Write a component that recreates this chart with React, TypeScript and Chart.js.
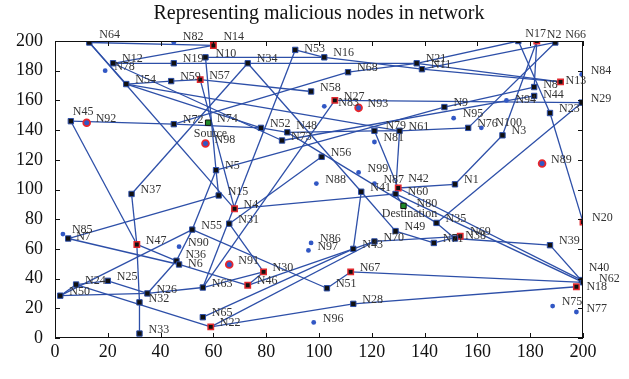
import { useEffect, useRef } from "react";
import { Chart, registerables } from "chart.js";

Chart.register(...registerables);

const chartTitle = "Representing malicious nodes in network";
const xTicks = [0, 20, 40, 60, 80, 100, 120, 140, 160, 180, 200];
const yTicks = [0, 20, 40, 60, 80, 100, 120, 140, 160, 180, 200];

// kind: p = routed node, m = malicious routed node, d = idle node, t = malicious idle node, g = source/destination
const nodes: [string, number, number, string][] = [
  ["N64", 13, 199, "p"], ["N82", 45, 199, "d"], ["N14", 60, 197, "m"], ["N10", 57, 189, "p"],
  ["N12", 22, 185, "p"], ["N78", 19, 180, "d"], ["N19", 45, 185, "p"], ["N54", 27, 171, "p"],
  ["N59", 44, 173, "p"], ["N57", 55, 174, "m"], ["N34", 73, 185, "p"], ["N45", 6, 146, "p"],
  ["N92", 12, 145, "t"], ["N72", 45, 144, "p"], ["N74", 58, 145, "g"], ["N98", 57, 131, "t"],
  ["N5", 61, 113, "p"], ["N37", 29, 97, "p"], ["N15", 62, 96, "p"], ["N4", 68, 87, "m"],
  ["N31", 66, 77, "p"], ["N85", 3, 70, "d"], ["N7", 5, 67, "p"], ["N55", 52, 73, "p"],
  ["N47", 31, 63, "m"], ["N90", 47, 61.5, "d"], ["N36", 46, 52, "p"], ["N6", 47, 49.5, "p"],
  ["N91", 66, 49.5, "t"], ["N24", 8, 36, "p"], ["N25", 20, 38.5, "p"], ["N50", 2, 28.5, "p"],
  ["N26", 35, 30, "p"], ["N32", 32, 24, "p"], ["N63", 56, 34, "p"], ["N65", 56, 14, "p"],
  ["N22", 59, 7.5, "m"], ["N33", 32, 3, "p"], ["N86", 97, 64, "d"], ["N97", 96, 59, "d"],
  ["N43", 113, 60, "p"], ["N70", 121, 65, "p"], ["N30", 79, 44.5, "m"], ["N46", 73, 35.5, "m"],
  ["N51", 103, 33.5, "p"], ["N67", 112, 44.5, "m"], ["N28", 113, 23, "p"], ["N96", 98, 10.5, "d"],
  ["N73", 86, 133, "p"], ["N56", 101, 122, "p"], ["N99", 115, 111.5, "d"], ["N88", 99, 104, "d"],
  ["N41", 116, 98.5, "p"], ["N87", 121, 104, "d"], ["N42", 130, 101, "m"], ["N60", 129, 97, "p"],
  ["N80", 132, 89, "g"], ["N81", 121, 132, "d"], ["N79", 121, 139.5, "p"], ["N61", 130.5, 139.5, "p"],
  ["N53", 91, 194, "p"], ["N16", 102, 189, "p"], ["N68", 111, 179, "p"], ["N58", 97, 166, "p"],
  ["N27", 106, 160, "m"], ["N83", 102, 156, "d"], ["N93", 115, 155, "t"], ["N52", 78, 141.5, "p"],
  ["N48", 88, 138.5, "p"], ["N21", 137, 185, "p"], ["N11", 139, 181, "p"], ["N17", 175.5, 200, "p"],
  ["N2", 182.5, 200, "m"], ["N66", 189.5, 199, "p"], ["N84", 199.5, 177.5, "d"], ["N13", 191.5, 172.5, "m"],
  ["N8", 181.5, 169, "p"], ["N44", 181.5, 163, "p"], ["N29", 199.5, 158.5, "p"], ["N9", 147.5, 155.5, "p"],
  ["N94", 171, 160, "d"], ["N23", 187.5, 151.5, "p"], ["N95", 151, 148, "d"], ["N76", 156.5, 141.5, "p"],
  ["N100", 161.5, 141.5, "d"], ["N3", 169.5, 136.5, "p"], ["N89", 184.5, 117.5, "t"], ["N1", 151.5, 103.5, "p"],
  ["N20", 200, 78, "m"], ["N35", 144.5, 77.5, "p"], ["N69", 151.5, 67, "p"], ["N38", 153.5, 68.5, "m"],
  ["N71", 143.5, 64, "p"], ["N49", 129, 72, "p"], ["N39", 187.5, 62.5, "p"], ["N40", 199.5, 39, "p"],
  ["N62", 200, 37.5, "p"], ["N18", 197.5, 34.5, "m"], ["N75", 188.5, 21.5, "d"], ["N77", 197.5, 17.5, "d"],
];

const edges: [string, string][] = [
  ["N64", "N14"], ["N14", "N12"], ["N12", "N19"], ["N19", "N34"], ["N10", "N16"], ["N53", "N16"],
  ["N16", "N11"], ["N34", "N21"], ["N21", "N13"], ["N11", "N13"], ["N17", "N21"], ["N66", "N11"],
  ["N2", "N8"], ["N17", "N23"], ["N23", "N20"], ["N2", "N3"], ["N3", "N1"], ["N66", "N76"],
  ["N76", "N61"], ["N61", "N79"], ["N79", "N42"], ["N61", "N60"], ["N29", "N35"], ["N27", "N29"],
  ["N9", "N8"], ["N5", "N9"], ["N73", "N44"], ["N10", "N5"], ["N57", "N4"], ["N4", "N60"],
  ["N56", "N31"], ["N37", "N34"], ["N37", "N47"], ["N45", "N47"], ["N45", "N72"], ["N72", "N52"],
  ["N52", "N48"], ["N48", "N79"], ["N72", "N68"], ["N68", "N21"], ["N54", "N59"], ["N59", "N57"],
  ["N57", "N58"], ["N54", "N52"], ["N54", "N61"], ["N64", "N4"], ["N64", "N54"], ["N47", "N32"],
  ["N32", "N33"], ["N7", "N15"], ["N7", "N6"], ["N5", "N55"], ["N5", "N15"], ["N47", "N36"],
  ["N26", "N36"], ["N36", "N55"], ["N50", "N24"], ["N24", "N25"], ["N25", "N26"], ["N24", "N22"],
  ["N50", "N26"], ["N26", "N63"], ["N50", "N55"], ["N63", "N30"], ["N30", "N46"], ["N6", "N46"],
  ["N46", "N43"], ["N27", "N63"], ["N65", "N43"], ["N22", "N70"], ["N22", "N28"], ["N28", "N18"],
  ["N67", "N62"], ["N51", "N67"], ["N55", "N51"], ["N43", "N70"], ["N41", "N43"], ["N34", "N41"],
  ["N41", "N49"], ["N49", "N71"], ["N71", "N38"], ["N69", "N39"], ["N39", "N62"], ["N70", "N38"],
  ["N35", "N69"], ["N42", "N40"], ["N60", "N62"], ["N60", "N80"], ["N1", "N42"], ["N48", "N35"],
  ["N12", "N73"], ["N53", "N63"], ["N31", "N30"], ["N20", "N62"],
];

const labelOffsets: Record<string, [number, number]> = {
  N64: [10, -8], N14: [10, -9], N82: [9, -6], N10: [10, -3], N17: [7, -7], N2: [10, -6], N66: [10, -8],
  N45: [2, -9], N42: [10, -9], N60: [12, -2], N80: [13, -2], N40: [7, -12], N62: [16, -3], N18: [10, 0],
  N77: [10, -3], N13: [5, -1], N8: [9, -2], N44: [9, -1], N94: [9, -1], N100: [14, -5], N83: [14, -3],
  N48: [9, -6], N36: [9, -6], N6: [9, -1], N38: [5, 0], N69: [15, -7], N7: [8, -2], N79: [11, -5],
  N53: [9, -1],
};
const extraLabels: [string, string, number, number][] = [
  ["N98", "Source", 5, -10],
  ["N80", "Destination", 6, 8],
];

const lineColor = "#2d4fa8";
const serif = "'Liberation Serif', 'DejaVu Serif', serif";

const kindStyle: Record<string, any> = {
  p: { pointStyle: "rect", radius: 3.8, backgroundColor: "#111", borderColor: "#2d4fa8", borderWidth: 1 },
  m: { pointStyle: "rect", radius: 3.8, backgroundColor: "#111", borderColor: "#e0282e", borderWidth: 1.5 },
  d: { pointStyle: "circle", radius: 2.4, backgroundColor: "#3157c4", borderColor: "#3157c4", borderWidth: 0 },
  t: { pointStyle: "circle", radius: 3.4, backgroundColor: "#3157c4", borderColor: "#e8262c", borderWidth: 1.8 },
  g: { pointStyle: "rect", radius: 3.8, backgroundColor: "#1f8a2a", borderColor: "#111", borderWidth: 1 },
};

export default function App() {
  const ref = useRef<HTMLCanvasElement | null>(null);
  useEffect(() => {
    const canvas = ref.current;
    if (!canvas) return;
    const pos: Record<string, { x: number; y: number }> = {};
    nodes.forEach(([n, x, y]) => (pos[n] = { x, y }));

    const edgeSets = edges.map(([a, b]) => ({
      type: "scatter" as const,
      data: [pos[a], pos[b]],
      showLine: true,
      borderColor: lineColor,
      borderWidth: 1.3,
      pointRadius: 0,
      order: 2,
    }));
    const nodeSets = Object.keys(kindStyle).map((k) => {
      const s = kindStyle[k];
      return {
        type: "scatter" as const,
        data: nodes.filter((n) => n[3] === k).map(([, x, y]) => ({ x, y })),
        pointStyle: s.pointStyle,
        pointRadius: s.radius,
        pointBackgroundColor: s.backgroundColor,
        pointBorderColor: s.borderColor,
        pointBorderWidth: s.borderWidth,
        showLine: false,
        order: 1,
      };
    });

    const framePlugin = {
      id: "frame",
      afterDatasetsDraw(chart: any) {
        const { ctx, chartArea: a, scales } = chart;
        ctx.save();
        ctx.strokeStyle = "#111";
        ctx.lineWidth = 1;
        ctx.strokeRect(a.left + 0.5, a.top + 0.5, a.right - a.left - 1, a.bottom - a.top - 1);
        const t = 5;
        ctx.beginPath();
        xTicks.forEach((v) => {
          const px = Math.round(scales.x.getPixelForValue(v)) + 0.5;
          ctx.moveTo(px, a.bottom);
          ctx.lineTo(px, a.bottom - t);
          ctx.moveTo(px, a.top);
          ctx.lineTo(px, a.top + t);
        });
        yTicks.forEach((v) => {
          const py = Math.round(scales.y.getPixelForValue(v)) + 0.5;
          ctx.moveTo(a.left, py);
          ctx.lineTo(a.left + t, py);
          ctx.moveTo(a.right, py);
          ctx.lineTo(a.right - t, py);
        });
        ctx.stroke();
        // title
        ctx.fillStyle = "#111";
        ctx.font = `20px ${serif}`;
        ctx.textAlign = "center";
        ctx.textBaseline = "middle";
        ctx.fillText(chartTitle, (a.left + a.right) / 2, 14);
        // node labels
        ctx.fillStyle = "#333";
        ctx.font = `12px ${serif}`;
        ctx.textAlign = "left";
        nodes.forEach(([n, x, y]) => {
          const off = labelOffsets[n] || [9, -4];
          const px = scales.x.getPixelForValue(x);
          const py = scales.y.getPixelForValue(y);
          ctx.fillText(n, px + off[0], py + off[1]);
        });
        ctx.textAlign = "center";
        extraLabels.forEach(([n, text, dx, dy]) => {
          const p = pos[n];
          ctx.fillText(text, scales.x.getPixelForValue(p.x) + dx, scales.y.getPixelForValue(p.y) + dy);
        });
        ctx.restore();
      },
    };

    const chart = new Chart(canvas, {
      type: "scatter",
      data: { datasets: [...nodeSets, ...edgeSets] as any },
      options: {
        animation: false,
        responsive: false,
        maintainAspectRatio: false,
        layout: { padding: { left: 0, right: 46, top: 41, bottom: 0 } },
        plugins: { legend: { display: false }, tooltip: { enabled: false }, title: { display: false } },
        scales: {
          x: {
            type: "linear",
            min: 0,
            max: 200,
            afterFit: (s: any) => { s.height = 41; },
            afterBuildTicks: (s: any) => { s.ticks = xTicks.map((v) => ({ value: v })); },
            ticks: { color: "#111", font: { family: serif, size: 18 }, padding: 3, maxRotation: 0 },
            grid: { display: false, drawTicks: false, tickLength: 0 },
            border: { display: false },
          },
          y: {
            type: "linear",
            min: 0,
            max: 200,
            afterFit: (s: any) => { s.width = 55; },
            afterBuildTicks: (s: any) => { s.ticks = yTicks.map((v) => ({ value: v })); },
            ticks: { color: "#111", font: { family: serif, size: 18 }, padding: 12 },
            grid: { display: false, drawTicks: false, tickLength: 0 },
            border: { display: false },
          },
        },
      },
      plugins: [framePlugin],
    });
    return () => chart.destroy();
  }, []);

  return (
    <div style={{ position: "fixed", left: 0, top: 0, width: 629, height: 379, background: "#fff" }}>
      <canvas ref={ref} width={629} height={379} style={{ width: 629, height: 379 }} />
    </div>
  );
}
